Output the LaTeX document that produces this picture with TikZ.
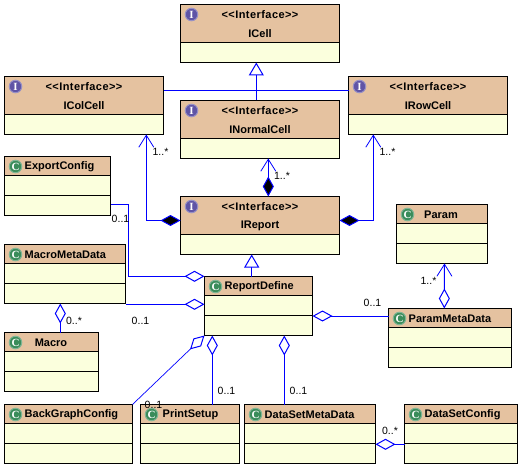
\documentclass[tikz,border=0pt]{standalone}
\usepackage{fontspec}
\setmainfont{Liberation Sans}
\newfontfamily\iconfont{Liberation Serif}
\usetikzlibrary{arrows.meta,calc}
\definecolor{hdr}{HTML}{E5C2A0}
\definecolor{bdy}{HTML}{FBFFDD}
\definecolor{lnk}{HTML}{0000FF}
\definecolor{gic}{HTML}{3A8C5A}
\definecolor{pic}{HTML}{5F54A6}
\tikzset{
  x=1pt,y=-1pt,
  boxshape/.style={draw=black,line width=1pt,fill=bdy,inner sep=0pt,outer sep=0pt,rectangle},
  ttl/.style={font=\fontsize{11}{12}\bfseries\selectfont,inner sep=0pt,text=black},
  mult/.style={font=\fontsize{10.5}{12}\selectfont,inner sep=0pt,text=black,anchor=center},
  ico/.style={circle,minimum size=12.5pt,inner sep=0pt,line width=1pt,text=white,font=\iconfont\fontsize{11}{11}\bfseries\selectfont},
  lk/.style={draw=lnk,line width=1pt},
  thinlk/.style={draw=lnk,line width=0.7pt},
  agg/.tip={Diamond[open,length=20pt,width=11pt,line width=1pt]},
  comp/.tip={Diamond[fill=black,length=20pt,width=11pt,line width=1pt]},
  vee/.tip={Straight Barb[length=12pt,width=15pt,line width=0.8pt]},
  inh/.tip={Triangle[open,fill=white,length=13pt,width=15pt,line width=1pt]},
}
\newcommand{\boxbase}[7]{%
  \pgfmathsetmacro{\cxx}{(#2+#4)/2}\pgfmathsetmacro{\cyy}{(#3+#7)/2}%
  \pgfmathsetmacro{\ww}{#4-#2}\pgfmathsetmacro{\hh}{#7-#3}%
  \node[boxshape,minimum width=\ww pt,minimum height=\hh pt] (#1) at (\cxx,\cyy) {};
  \filldraw[fill=hdr,draw=black,line width=1pt] (#2,#3) rectangle (#4,#5);
}
\newcommand{\classbox}[6]{%
  \pgfmathsetmacro{\ya}{#3+19}\pgfmathsetmacro{\yb}{#3+39}\pgfmathsetmacro{\yc}{#3+59}%
  \boxbase{#1}{#2}{#3}{#4}{\ya}{\yb}{\yc}
  \draw[black,line width=1pt] (#2,\yb) -- (#4,\yb);
  \pgfmathsetmacro{\ix}{#2+11}\pgfmathsetmacro{\iy}{#3+10}%
  \node[ico,fill=gic,draw=gic!65!white] (#1-icon) at (\ix,\iy) {C};
  \node[ttl,#6] (#1-title) at (#5,\iy) {#1};
}
\newcommand{\ifacebox}[4]{%
  \pgfmathsetmacro{\ya}{#3+38}\pgfmathsetmacro{\yc}{#3+58}%
  \boxbase{#1}{#2}{#3}{#4}{\ya}{\ya}{\yc}
  \pgfmathsetmacro{\ix}{#2+11}\pgfmathsetmacro{\iy}{#3+10}\pgfmathsetmacro{\iz}{#3+29}\pgfmathsetmacro{\tx}{(#2+#4)/2}%
  \node[ico,fill=pic,draw=pic!65!white] (#1-icon) at (\ix,\iy) {I};
  \node[ttl] (#1-stereo) at (\tx,\iy) {\addfontfeature{LetterSpace=4}<{}<Interface>{}>};
  \node[ttl] (#1-title) at (\tx,\iz) {#1};
}
\begin{document}
\begin{tikzpicture}
\useasboundingbox (0,0) rectangle (522,468);
\fill[white] (0,0) rectangle (522,468);

\ifacebox{ICell}{180.5}{4.5}{339.5}
\ifacebox{IColCell}{4.5}{76.5}{163.5}
\ifacebox{INormalCell}{180.5}{100.5}{339.5}
\ifacebox{IRowCell}{348.5}{76.5}{507.5}
\ifacebox{IReport}{180.5}{196.5}{339.5}

\classbox{ExportConfig}{4.5}{156.5}{110.5}{24.5}{anchor=west}
\classbox{MacroMetaData}{4.5}{244.5}{125.5}{24.5}{anchor=west}
\classbox{Macro}{4.5}{332.5}{98.5}{51}{}
\classbox{BackGraphConfig}{4.5}{404.5}{132.5}{24.5}{anchor=west}
\classbox{PrintSetup}{140.5}{404.5}{239.5}{162.5}{anchor=west}
\classbox{DataSetMetaData}{244.5}{404.5}{375.5}{264.5}{anchor=west}
\classbox{DataSetConfig}{404.5}{404.5}{517.5}{424.5}{anchor=west}
\classbox{ReportDefine}{204.5}{276.5}{312.5}{224.5}{anchor=west}
\classbox{Param}{396.5}{204.5}{487.5}{441}{}
\classbox{ParamMetaData}{388.5}{308.5}{511.5}{408.5}{anchor=west}

% generalisations
\draw[lk] ([yshift=15pt]IColCell.east) -- ([yshift=15pt]IRowCell.west);
\draw[lk,-{inh}] ([xshift=-3.7pt]INormalCell.north) -- ([xshift=-3.7pt]ICell.south);
\draw[lk,-{inh}] ([xshift=-6.8pt]ReportDefine.north) -- ([xshift=-8.3pt]IReport.south);

% compositions
\draw[lk,{comp}-{vee}] ([yshift=5pt]IReport.west) -| ([xshift=62.3pt]IColCell.south);
\draw[lk,{comp}-{vee}] ([xshift=8.3pt]IReport.north) -- ([xshift=8.3pt]INormalCell.south);
\draw[lk,{comp}-{vee}] ([yshift=5pt]IReport.east) -| ([xshift=-54.7pt]IRowCell.south);

% aggregations
\coordinate (expA) at ([yshift=-18.3pt]ExportConfig.east);
\coordinate (expB) at ([xshift=18pt]expA);
\draw[lk,{agg}-] ([yshift=29.7pt]ReportDefine.west) -| (expB) -- (expA);
\draw[lk,{agg}-] ([yshift=1.7pt]ReportDefine.west) -- ([yshift=1.7pt]ReportDefine.west -| MacroMetaData.east);
\draw[lk,{agg}-] ([xshift=-4.7pt]MacroMetaData.south) -- ([xshift=8.8pt]Macro.north);
\draw[thinlk,{agg}-] (ReportDefine.south west) -- (BackGraphConfig.north east);
\draw[lk,{agg}-] ([xshift=-46.2pt]ReportDefine.south) -- ([xshift=22.3pt]PrintSetup.north);
\draw[lk,{agg}-] ([xshift=25.8pt]ReportDefine.south) -- ([xshift=-25.7pt]DataSetMetaData.north);
\draw[lk,{agg}-] ([yshift=-10pt]ReportDefine.east) -- ([yshift=-10pt]ReportDefine.east -| ParamMetaData.west);
\draw[lk,{agg}-{vee}] ([xshift=-5.7pt]ParamMetaData.north) -- ([xshift=2.5pt]Param.south);
\draw[lk,{agg}-] ([yshift=-10.3pt]DataSetMetaData.east) -- ([yshift=-10.3pt]DataSetMetaData.east -| DataSetConfig.west);

% multiplicities
\node[mult] (m1) at (160.5,151.5) {1..*};
\node[mult] (m2) at (282,175.5) {1..*};
\node[mult] (m3) at (387.5,151.5) {1..*};
\node[mult] (m4) at (120.5,218.5) {0..1};
\node[mult] (m5) at (140.5,320.5) {0..1};
\node[mult] (m6) at (74,320.5) {0..*};
\node[mult] (m7) at (153.5,404.5) {0..1};
\node[mult] (m8) at (226.5,390.5) {0..1};
\node[mult] (m9) at (298.5,390.5) {0..1};
\node[mult] (m10) at (372.5,302.5) {0..1};
\node[mult] (m11) at (428.5,280.5) {1..*};
\node[mult] (m12) at (390,430.5) {0..*};
\end{tikzpicture}
\end{document}
